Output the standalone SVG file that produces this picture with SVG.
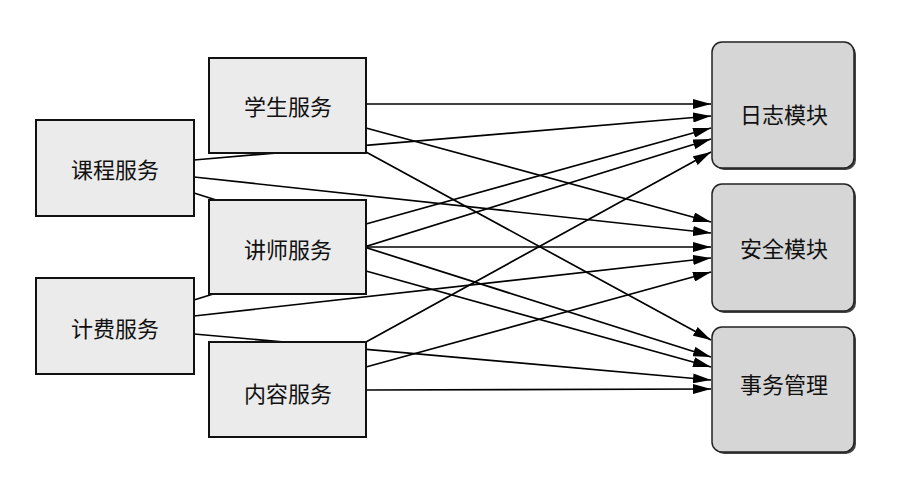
<svg xmlns="http://www.w3.org/2000/svg" width="900" height="486" viewBox="0 0 900 486">
<defs>
<style>
.svc{fill:#ebebeb;stroke:#111;stroke-width:2}
.mod{fill:#d6d6d6;stroke:#222;stroke-width:1.5}
.shadow{fill:#444}
.lbl{font-family:"Noto Sans CJK SC","Noto Sans",sans-serif;font-size:22px;fill:#111;text-anchor:middle;dominant-baseline:central}
.edge{stroke:#000;stroke-width:1.7;fill:none;marker-end:url(#arr)}
</style>
<marker id="arr" markerUnits="userSpaceOnUse" markerWidth="18" markerHeight="10" refX="18" refY="5" orient="auto">
<path d="M0,0 L18,5 L0,10 z" fill="#000"/>
</marker>
</defs>
<rect width="900" height="486" fill="#fff"/>
<g id="connectors">
<line class="edge" x1="366" y1="104" x2="711" y2="104"/>
<line class="edge" x1="366" y1="128" x2="711" y2="222"/>
<line class="edge" x1="366" y1="152" x2="711" y2="340"/>
<line class="edge" x1="194" y1="160" x2="711" y2="116"/>
<line class="edge" x1="194" y1="177" x2="711" y2="233"/>
<line class="edge" x1="194" y1="193" x2="711" y2="357"/>
<line class="edge" x1="366" y1="224" x2="711" y2="128"/>
<line class="edge" x1="366" y1="247" x2="711" y2="247"/>
<line class="edge" x1="366" y1="271" x2="711" y2="367"/>
<line class="edge" x1="194" y1="300" x2="711" y2="139"/>
<line class="edge" x1="194" y1="316" x2="711" y2="258"/>
<line class="edge" x1="194" y1="334" x2="711" y2="380"/>
<line class="edge" x1="366" y1="342" x2="711" y2="152"/>
<line class="edge" x1="366" y1="367" x2="711" y2="272"/>
<line class="edge" x1="366" y1="390" x2="711" y2="389"/>
</g>
<g id="kecheng"><rect class="svc" x="36" y="120" width="158" height="96"/><text class="lbl" x="115" y="168">课程服务</text></g>
<g id="jifei"><rect class="svc" x="36" y="278" width="158" height="96"/><text class="lbl" x="115" y="327">计费服务</text></g>
<g id="xuesheng"><rect class="svc" x="209" y="58" width="157" height="95"/><text class="lbl" x="288" y="105">学生服务</text></g>
<g id="jiangshi"><rect class="svc" x="209" y="200" width="157" height="94"/><text class="lbl" x="288" y="248">讲师服务</text></g>
<g id="neirong"><rect class="svc" x="209" y="342" width="157" height="95"/><text class="lbl" x="288" y="392">内容服务</text></g>
<g id="rizhi"><rect class="shadow" x="714" y="44" width="142" height="126" rx="10"/><rect class="mod" x="712" y="42" width="142" height="126" rx="10"/><text class="lbl" x="784" y="113">日志模块</text></g>
<g id="anquan"><rect class="shadow" x="714" y="186" width="142" height="127" rx="10"/><rect class="mod" x="712" y="184" width="142" height="127" rx="10"/><text class="lbl" x="784" y="247">安全模块</text></g>
<g id="shiwu"><rect class="shadow" x="714" y="329" width="142" height="125" rx="10"/><rect class="mod" x="712" y="327" width="142" height="125" rx="10"/><text class="lbl" x="784" y="383">事务管理</text></g>
</svg>
